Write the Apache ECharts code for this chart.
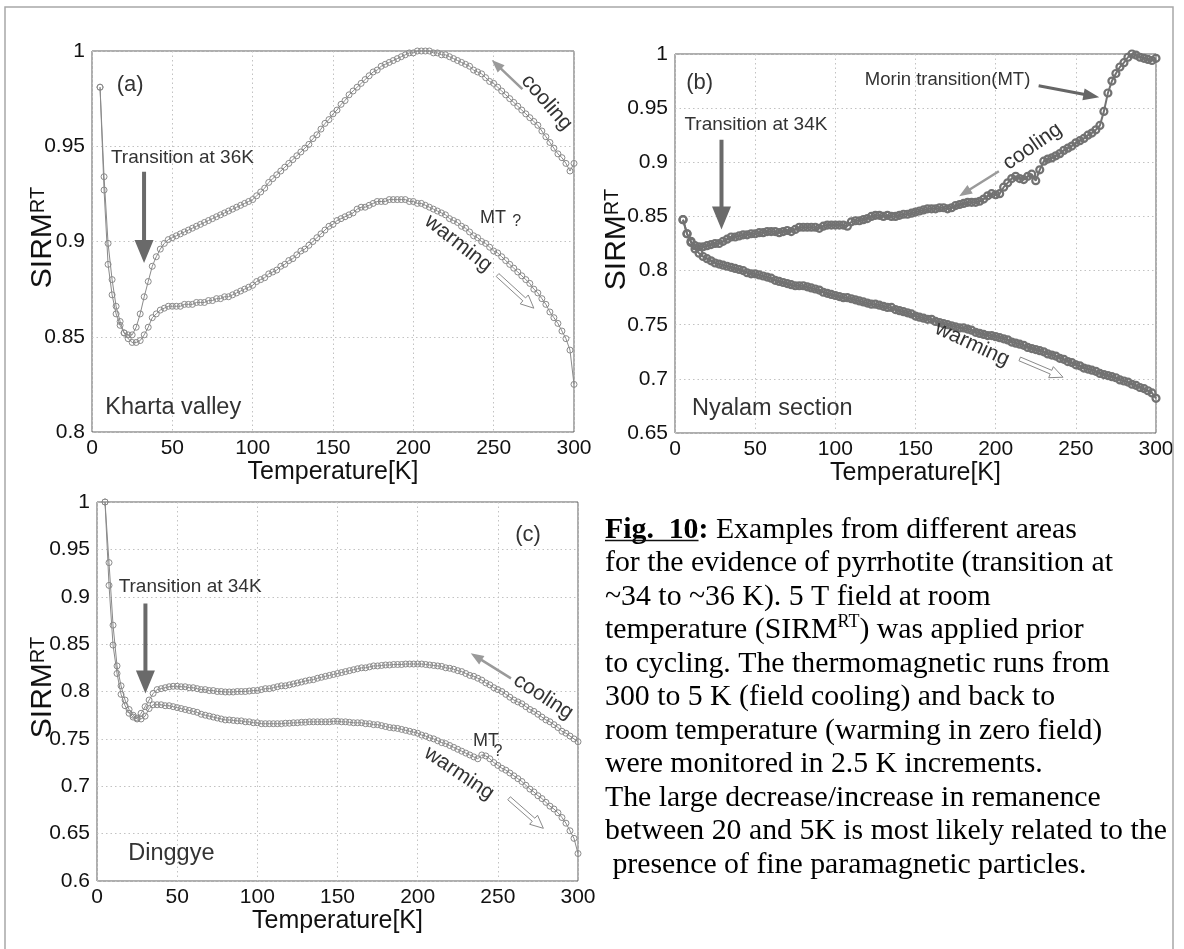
<!DOCTYPE html>
<html>
<head>
<meta charset="utf-8">
<script src="https://cdn.jsdelivr.net/npm/echarts@6/dist/echarts.min.js"></script>
<style>
  html, body { margin: 0; padding: 0; background: #ffffff; }
  #chart { width: 1184px; height: 949px; }
</style>
</head>
<body>
<div id="chart"></div>
<script>
// Temperature steps (K), 2.5 K increments
const temperatures = [
  5, 7.5, 10, 12.5, 15, 17.5, 20, 22.5, 25, 27.5,
  30, 32.5, 35, 37.5, 40, 42.5, 45, 47.5, 50, 52.5,
  55, 57.5, 60, 62.5, 65, 67.5, 70, 72.5, 75, 77.5,
  80, 82.5, 85, 87.5, 90, 92.5, 95, 97.5, 100, 102.5,
  105, 107.5, 110, 112.5, 115, 117.5, 120, 122.5, 125, 127.5,
  130, 132.5, 135, 137.5, 140, 142.5, 145, 147.5, 150, 152.5,
  155, 157.5, 160, 162.5, 165, 167.5, 170, 172.5, 175, 177.5,
  180, 182.5, 185, 187.5, 190, 192.5, 195, 197.5, 200, 202.5,
  205, 207.5, 210, 212.5, 215, 217.5, 220, 222.5, 225, 227.5,
  230, 232.5, 235, 237.5, 240, 242.5, 245, 247.5, 250, 252.5,
  255, 257.5, 260, 262.5, 265, 267.5, 270, 272.5, 275, 277.5,
  280, 282.5, 285, 287.5, 290, 292.5, 295, 297.5, 300
];

// (a) Kharta valley
const coolingKharta = [
  0.981, 0.927, 0.888, 0.872, 0.862, 0.856, 0.852, 0.851, 0.851, 0.855,
  0.862, 0.871, 0.879, 0.887, 0.892, 0.896, 0.899, 0.901, 0.902, 0.903,
  0.904, 0.905, 0.906, 0.907, 0.908, 0.909, 0.910, 0.911, 0.912, 0.913,
  0.914, 0.915, 0.916, 0.917, 0.918, 0.919, 0.920, 0.921, 0.922, 0.924,
  0.926, 0.928, 0.931, 0.933, 0.935, 0.937, 0.939, 0.941, 0.943, 0.945,
  0.947, 0.949, 0.951, 0.954, 0.956, 0.959, 0.962, 0.964, 0.967, 0.969,
  0.972, 0.974, 0.977, 0.979, 0.981, 0.983, 0.985, 0.987, 0.989, 0.990,
  0.992, 0.993, 0.994, 0.995, 0.996, 0.997, 0.998, 0.999, 0.999, 1.000,
  1.000, 1.000, 1.000, 0.999, 0.999, 0.998, 0.998, 0.997, 0.996, 0.995,
  0.994, 0.993, 0.992, 0.990, 0.989, 0.988, 0.986, 0.984, 0.983, 0.981,
  0.979, 0.977, 0.975, 0.973, 0.971, 0.969, 0.967, 0.965, 0.963, 0.961,
  0.958, 0.955, 0.952, 0.949, 0.946, 0.944, 0.941, 0.937, 0.941
];
const warmingKharta = [
  0.981, 0.934, 0.899, 0.880, 0.866, 0.858, 0.852, 0.849, 0.847, 0.847,
  0.848, 0.851, 0.855, 0.860, 0.862, 0.864, 0.865, 0.866, 0.866, 0.866,
  0.866, 0.867, 0.867, 0.867, 0.868, 0.868, 0.868, 0.869, 0.869, 0.870,
  0.870, 0.871, 0.871, 0.872, 0.873, 0.874, 0.875, 0.876, 0.877, 0.879,
  0.880, 0.881, 0.883, 0.884, 0.885, 0.887, 0.888, 0.890, 0.891, 0.893,
  0.895, 0.896, 0.898, 0.900, 0.902, 0.904, 0.906, 0.908, 0.909, 0.911,
  0.912, 0.913, 0.914, 0.915, 0.917, 0.918, 0.918, 0.919, 0.920, 0.921,
  0.921, 0.921, 0.922, 0.922, 0.922, 0.922, 0.922, 0.921, 0.921, 0.920,
  0.920, 0.919, 0.918, 0.917, 0.916, 0.915, 0.914, 0.912, 0.911, 0.910,
  0.908, 0.907, 0.905, 0.903, 0.902, 0.900, 0.899, 0.897, 0.895, 0.894,
  0.892, 0.890, 0.888, 0.886, 0.884, 0.882, 0.880, 0.878, 0.875, 0.873,
  0.870, 0.867, 0.863, 0.860, 0.857, 0.853, 0.849, 0.843, 0.825
];

// (b) Nyalam section
const coolingNyalam = [
  0.847, 0.834, 0.827, 0.823, 0.822, 0.822, 0.823, 0.824, 0.825, 0.825,
  0.827, 0.829, 0.831, 0.831, 0.832, 0.833, 0.833, 0.834, 0.834, 0.835,
  0.835, 0.836, 0.836, 0.836, 0.835, 0.836, 0.837, 0.836, 0.838, 0.840,
  0.840, 0.840, 0.840, 0.840, 0.839, 0.841, 0.842, 0.842, 0.842, 0.842,
  0.842, 0.841, 0.845, 0.846, 0.846, 0.847, 0.848, 0.850, 0.851, 0.851,
  0.850, 0.851, 0.850, 0.850, 0.851, 0.852, 0.852, 0.853, 0.854, 0.855,
  0.856, 0.857, 0.857, 0.857, 0.858, 0.858, 0.857, 0.858, 0.860, 0.861,
  0.862, 0.863, 0.863, 0.863, 0.864, 0.866, 0.869, 0.871, 0.870, 0.871,
  0.877, 0.881, 0.885, 0.887, 0.885, 0.884, 0.887, 0.889, 0.883, 0.893,
  0.901, 0.903, 0.904, 0.906, 0.908, 0.911, 0.913, 0.915, 0.918, 0.920,
  0.922, 0.925, 0.927, 0.930, 0.934, 0.947, 0.964, 0.975, 0.982, 0.988,
  0.992, 0.997, 1.000, 0.999, 0.997, 0.996, 0.995, 0.994, 0.996
];
const warmingNyalam = [
  0.847, 0.834, 0.826, 0.820, 0.816, 0.813, 0.811, 0.809, 0.807, 0.806,
  0.805, 0.804, 0.803, 0.802, 0.801, 0.800, 0.798, 0.797, 0.797, 0.796,
  0.795, 0.794, 0.793, 0.791, 0.790, 0.789, 0.788, 0.787, 0.786, 0.786,
  0.786, 0.785, 0.784, 0.783, 0.782, 0.780, 0.779, 0.778, 0.777, 0.776,
  0.775, 0.775, 0.774, 0.773, 0.772, 0.771, 0.770, 0.769, 0.769, 0.768,
  0.767, 0.766, 0.766, 0.764, 0.763, 0.762, 0.761, 0.760, 0.758, 0.757,
  0.756, 0.755, 0.755, 0.753, 0.752, 0.751, 0.750, 0.749, 0.748, 0.747,
  0.747, 0.746, 0.745, 0.743, 0.742, 0.741, 0.740, 0.740, 0.739, 0.738,
  0.737, 0.736, 0.734, 0.733, 0.732, 0.731, 0.729, 0.728, 0.727, 0.726,
  0.725, 0.723, 0.722, 0.721, 0.719, 0.718, 0.716, 0.715, 0.713, 0.712,
  0.710, 0.709, 0.708, 0.707, 0.705, 0.704, 0.703, 0.702, 0.701, 0.699,
  0.698, 0.697, 0.695, 0.694, 0.692, 0.691, 0.689, 0.687, 0.682
];

// (c) Dinggye
const coolingDinggye = [
  1.000, 0.912, 0.849, 0.819, 0.797, 0.785, 0.777, 0.773, 0.772, 0.777,
  0.784, 0.791, 0.798, 0.802, 0.803, 0.804, 0.805, 0.8055, 0.8055, 0.805,
  0.805, 0.804, 0.804, 0.803, 0.802, 0.802, 0.801, 0.801, 0.800, 0.800,
  0.7995, 0.7995, 0.7995, 0.800, 0.800, 0.800, 0.8005, 0.801, 0.801, 0.802,
  0.803, 0.803, 0.804, 0.805, 0.806, 0.806, 0.807, 0.808, 0.809, 0.810,
  0.811, 0.812, 0.8125, 0.814, 0.815, 0.816, 0.817, 0.818, 0.819, 0.820,
  0.821, 0.822, 0.823, 0.824, 0.825, 0.825, 0.826, 0.827, 0.827, 0.8275,
  0.828, 0.828, 0.8285, 0.8285, 0.8285, 0.829, 0.829, 0.829, 0.829, 0.829,
  0.8285, 0.828, 0.8275, 0.827, 0.8265, 0.825, 0.8245, 0.8235, 0.822, 0.821,
  0.819, 0.817, 0.816, 0.814, 0.812, 0.809, 0.807, 0.804, 0.802, 0.800,
  0.797, 0.794, 0.791, 0.789, 0.787, 0.784, 0.781, 0.779, 0.776, 0.773,
  0.770, 0.768, 0.765, 0.762, 0.758, 0.756, 0.753, 0.750, 0.747
];
const warmingDinggye = [
  1.000, 0.936, 0.870, 0.827, 0.806, 0.791, 0.781, 0.775, 0.771, 0.771,
  0.774, 0.782, 0.786, 0.786, 0.786, 0.785, 0.785, 0.784, 0.783, 0.782,
  0.781, 0.780, 0.779, 0.778, 0.776, 0.775, 0.774, 0.773, 0.772, 0.771,
  0.770, 0.770, 0.7695, 0.769, 0.769, 0.768, 0.768, 0.767, 0.767, 0.766,
  0.766, 0.766, 0.766, 0.766, 0.766, 0.7665, 0.7665, 0.767, 0.767, 0.7675,
  0.7675, 0.768, 0.768, 0.768, 0.768, 0.768, 0.768, 0.7685, 0.7685, 0.768,
  0.768, 0.7675, 0.767, 0.767, 0.767, 0.766, 0.766, 0.765, 0.765, 0.764,
  0.763, 0.762, 0.7615, 0.761, 0.760, 0.759, 0.758, 0.757, 0.756, 0.754,
  0.753, 0.751, 0.750, 0.748, 0.746, 0.745, 0.743, 0.741, 0.739, 0.737,
  0.735, 0.733, 0.731, 0.729, 0.733, 0.732, 0.729, 0.725, 0.722, 0.719,
  0.717, 0.714, 0.711, 0.708, 0.705, 0.701, 0.697, 0.694, 0.690, 0.687,
  0.683, 0.679, 0.676, 0.672, 0.667, 0.661, 0.653, 0.645, 0.629
];

// Axis ranges per panel [min, max]
const sirmRanges = [[0.8, 1], [0.65, 1], [0.6, 1]];
const panelTags = ['(a)', '(b)', '(c)'];
const siteNames = ['Kharta valley', 'Nyalam section', 'Dinggye'];
const transitionLabels = ['Transition at 36K', 'Transition at 34K', 'Transition at 34K'];

const captionLines = [
  'for the evidence of pyrrhotite (transition at',
  '~34 to ~36 K). 5 T field at room',
  null, // line with the SIRM superscript
  'to cycling. The thermomagnetic runs from',
  '300 to 5 K (field cooling) and back to',
  'room temperature (warming in zero field)',
  'were monitored in 2.5 K increments.',
  'The large decrease/increase in remanence',
  'between 20 and 5K is most likely related to the',
  ' presence of fine paramagnetic particles.'
];

const SANS = '"Liberation Sans", Arial, sans-serif';
const SERIF = '"Liberation Serif", "Times New Roman", serif';

const chart = echarts.init(document.getElementById('chart'), null, { renderer: 'canvas' });

const grids = [
  { left: 92, top: 51, width: 482, height: 381 },
  { left: 675, top: 54, width: 481, height: 379 },
  { left: 97, top: 502, width: 481, height: 379 }
];

function xAxisFor(g) {
  return {
    type: 'value', gridIndex: g, min: 0, max: 300, interval: 50,
    name: 'Temperature[K]', nameLocation: 'middle', nameGap: 25,
    nameTextStyle: { fontSize: 25, color: '#111', fontFamily: SANS },
    axisLine: { show: false }, axisTick: { show: false },
    axisLabel: { fontSize: 21, color: '#111', margin: 6, fontFamily: SANS },
    splitLine: { show: true, lineStyle: { color: '#c2c2c2', width: 1, type: [1.5, 3] } }
  };
}
function yAxisFor(g) {
  return {
    type: 'value', gridIndex: g, min: sirmRanges[g][0], max: sirmRanges[g][1], interval: 0.05,
    axisLine: { show: false }, axisTick: { show: false },
    axisLabel: { fontSize: 21, color: '#111', margin: 7, fontFamily: SANS },
    splitLine: { show: true, lineStyle: { color: '#c2c2c2', width: 1, type: [1.5, 3] } }
  };
}
function curve(g, name, values, dense) {
  const col = dense ? '#727272' : '#8a8a8a';
  return {
    type: 'line', name: name, xAxisIndex: g, yAxisIndex: g,
    data: temperatures.map((t, i) => [t, values[i]]),
    symbol: 'circle', symbolSize: dense ? 7 : 6, showSymbol: true, clip: false,
    lineStyle: { color: col, width: dense ? 2 : 1 },
    itemStyle: { color: 'rgba(255,255,255,0)', borderColor: col, borderWidth: dense ? 2.2 : 1 },
    animation: false, silent: true
  };
}

chart.setOption({
  backgroundColor: '#ffffff',
  animation: false,
  grid: grids.map(g => Object.assign({ show: true, borderColor: '#5c5c5c', borderWidth: 1, backgroundColor: 'transparent' }, g)),
  xAxis: [0, 1, 2].map(xAxisFor),
  yAxis: [0, 1, 2].map(yAxisFor),
  series: [
    curve(0, 'cooling', coolingKharta, false),
    curve(0, 'warming', warmingKharta, false),
    curve(1, 'cooling', coolingNyalam, true),
    curve(1, 'warming', warmingNyalam, true),
    curve(2, 'cooling', coolingDinggye, false),
    curve(2, 'warming', warmingDinggye, false)
  ]
});

// ---- annotations, placed in data coordinates of each panel ----
function P(g, t, v) { return chart.convertToPixel({ gridIndex: g }, [t, v]); }

function arrowPoints(p1, p2, shaftW, headL, headW) {
  const dx = p2[0] - p1[0], dy = p2[1] - p1[1];
  const len = Math.sqrt(dx * dx + dy * dy);
  const ux = dx / len, uy = dy / len, nx = -uy, ny = ux;
  const bx = p2[0] - ux * headL, by = p2[1] - uy * headL;
  return [
    [p1[0] + nx * shaftW / 2, p1[1] + ny * shaftW / 2],
    [bx + nx * shaftW / 2, by + ny * shaftW / 2],
    [bx + nx * headW / 2, by + ny * headW / 2],
    [p2[0], p2[1]],
    [bx - nx * headW / 2, by - ny * headW / 2],
    [bx - nx * shaftW / 2, by - ny * shaftW / 2],
    [p1[0] - nx * shaftW / 2, p1[1] - ny * shaftW / 2]
  ];
}
function arrow(g, a, b, opt) {
  const pts = arrowPoints(P(g, a[0], a[1]), P(g, b[0], b[1]), opt.shaft, opt.headL, opt.headW);
  return {
    type: 'polygon', shape: { points: pts }, z: 20,
    style: { fill: opt.fill, stroke: opt.stroke || null, lineWidth: opt.stroke ? 1 : 0 }
  };
}
function thickDown(g, t, vTop, vTip) {
  return arrow(g, [t, vTop], [t, vTip], { shaft: 4, headL: 23, headW: 19, fill: '#6a6a6a' });
}
function coolArrow(g, a, b) {
  return arrow(g, a, b, { shaft: 2.5, headL: 13, headW: 10, fill: '#9a9a9a' });
}
function hollowArrow(g, a, b) {
  return arrow(g, a, b, { shaft: 4, headL: 13, headW: 12, fill: '#ffffff', stroke: '#8a8a8a' });
}
function txt(g, t, v, text, size, opt) {
  opt = opt || {};
  const p = P(g, t, v);
  return {
    type: 'text', x: p[0], y: p[1], rotation: (opt.rot || 0) * Math.PI / 180, z: 21,
    style: {
      text: text, x: 0, y: 0, font: size + 'px ' + SANS, fill: opt.color || '#333',
      align: opt.align || 'center', verticalAlign: 'middle',
      textAlign: opt.align || 'center', textVerticalAlign: 'middle'
    }
  };
}
function sirmTitle(g, gap) {
  const range = sirmRanges[g];
  const p = P(g, 0, (range[0] + range[1]) / 2);
  return {
    type: 'text', x: p[0] - gap, y: p[1] - 4, rotation: Math.PI / 2, z: 21,
    style: {
      text: '{m|SIRM}{s|RT}', x: 0, y: 0, align: 'center', verticalAlign: 'middle',
      textAlign: 'center', textVerticalAlign: 'middle',
      rich: {
        m: { fontSize: 30, lineHeight: 30, fontFamily: SANS, color: '#111', fill: '#111', verticalAlign: 'bottom' },
        s: { fontSize: 20, lineHeight: 20, fontFamily: SANS, color: '#111', fill: '#111', verticalAlign: 'top' }
      }
    }
  };
}

function buildGraphics() {
  const els = [];
  // outer frame
  els.push({ type: 'rect', shape: { x: 5, y: 7, width: 1168, height: 960 }, z: 1,
    style: { fill: null, stroke: '#a8a8a8', lineWidth: 1.5 } });

  // axis titles
  els.push(sirmTitle(0, 49), sirmTitle(1, 58), sirmTitle(2, 54));

  // (a)
  els.push(txt(0, 23.7, 0.982, panelTags[0], 22));
  els.push(txt(0, 11.8, 0.944, transitionLabels[0], 19, { align: 'left' }));
  els.push(thickDown(0, 32.4, 0.9366, 0.8887));
  els.push(txt(0, 283, 0.973, 'cooling', 21, { rot: -49 }));
  els.push(coolArrow(0, [267.9, 0.980], [248.8, 0.9953]));
  els.push(txt(0, 241.5, 0.9123, 'MT', 18, { align: 'left' }));
  els.push(txt(0, 261.5, 0.9105, '?', 16, { align: 'left' }));
  els.push(txt(0, 228, 0.899, 'warming', 21, { rot: -38 }));
  els.push(hollowArrow(0, [252.4, 0.8824], [275, 0.865]));
  els.push(txt(0, 8.3, 0.8126, siteNames[0], 23.5, { align: 'left' }));

  // (b)
  els.push(txt(1, 15.4, 0.973, panelTags[1], 22));
  els.push(txt(1, 170, 0.976, 'Morin transition(MT)', 18.5));
  els.push(arrow(1, [226.8, 0.9706], [264.6, 0.960], { shaft: 3, headL: 16, headW: 12, fill: '#666' }));
  els.push(txt(1, 5.9, 0.9347, transitionLabels[1], 19, { align: 'left' }));
  els.push(thickDown(1, 29, 0.9209, 0.838));
  els.push(txt(1, 223, 0.9147, 'cooling', 21, { rot: 35 }));
  els.push(coolArrow(1, [202, 0.8917], [177.2, 0.8687]));
  els.push(txt(1, 185.4, 0.732, 'warming', 21, { rot: -25 }));
  els.push(hollowArrow(1, [215, 0.7184], [242, 0.7015]));
  els.push(txt(1, 10.6, 0.673, siteNames[1], 23.5, { align: 'left' }));

  // (c)
  els.push(txt(2, 268.8, 0.965, panelTags[2], 22));
  els.push(txt(2, 13.5, 0.9106, transitionLabels[2], 19, { align: 'left' }));
  els.push(thickDown(2, 30.2, 0.893, 0.798));
  els.push(txt(2, 278.4, 0.7945, 'cooling', 21, { rot: -33 }));
  els.push(coolArrow(2, [258.2, 0.8139], [233.1, 0.8403]));
  els.push(txt(2, 234.5, 0.7475, 'MT', 18, { align: 'left' }));
  els.push(txt(2, 250, 0.7365, '?', 16));
  els.push(txt(2, 225.8, 0.7137, 'warming', 21, { rot: -34 }));
  els.push(hollowArrow(2, [257, 0.6873], [278.4, 0.6556]));
  els.push(txt(2, 19.5, 0.6292, siteNames[2], 23.5, { align: 'left' }));

  // caption block
  const capX = 605, capY0 = 530, capStep = 33.5, capSize = 29.8;
  const ctx = document.createElement('canvas').getContext('2d');
  ctx.font = 'bold ' + capSize + 'px ' + SERIF;
  const figW = ctx.measureText('Fig.  10').width;
  const richCap = {
    b: { fontSize: capSize, fontWeight: 'bold', fontFamily: SERIF, color: '#111', lineHeight: 34 },
    n: { fontSize: capSize, fontFamily: SERIF, color: '#111', lineHeight: 34 },
    s: { fontSize: 18, fontFamily: SERIF, color: '#111', lineHeight: 18, verticalAlign: 'top' }
  };
  function capLine(i, text) {
    return {
      type: 'text', x: capX, y: capY0 + i * capStep, z: 21,
      style: { text: text, x: 0, y: 0, align: 'left', verticalAlign: 'middle',
        textAlign: 'left', textVerticalAlign: 'middle', rich: richCap }
    };
  }
  els.push(capLine(0, '{b|Fig.  10:}{n| Examples from different areas}'));
  els.push({ type: 'line', z: 21, shape: { x1: capX, y1: capY0 + 10.5, x2: capX + figW, y2: capY0 + 10.5 },
    style: { stroke: '#111', lineWidth: 1.5 } });
  captionLines.forEach((line, k) => {
    const i = k + 1;
    if (line === null) {
      els.push(capLine(i, '{n|temperature (SIRM}{s|RT}{n|) was applied prior}'));
    } else {
      els.push(capLine(i, '{n|' + line + '}'));
    }
  });
  return els;
}

chart.setOption({ graphic: { elements: buildGraphics() } });
</script>
</body>
</html>
